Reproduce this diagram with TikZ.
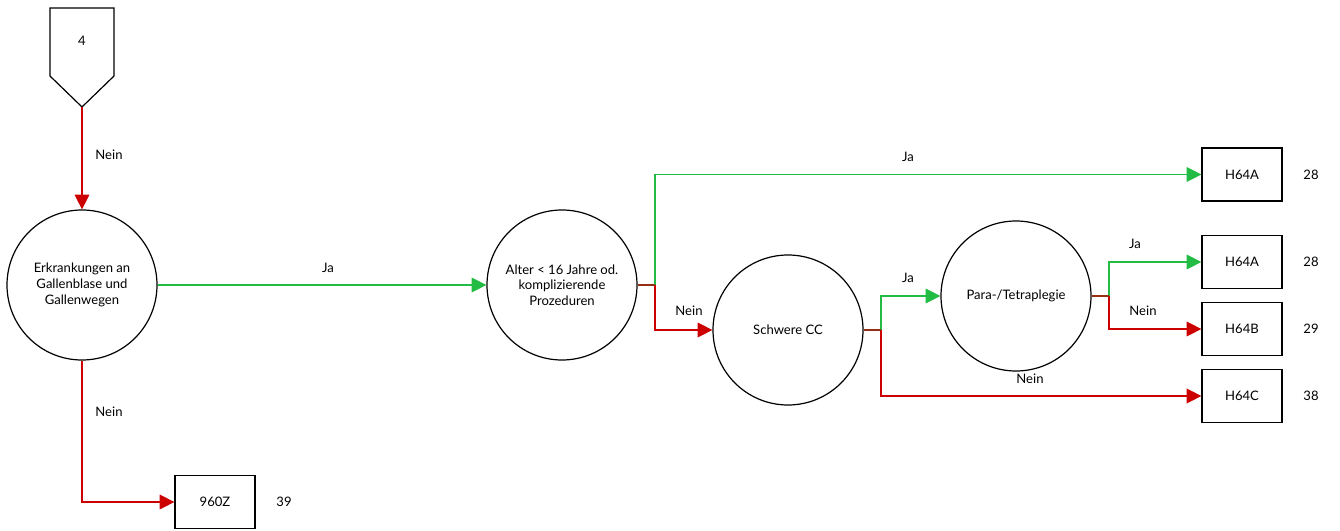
\documentclass[tikz,border=0pt]{standalone}
\usepackage{fontspec}
\setmainfont{Lato}
\usetikzlibrary{arrows.meta}
\definecolor{gr}{RGB}{34,187,68}
\definecolor{rd}{RGB}{204,0,0}
\definecolor{br}{RGB}{150,45,20}
\begin{document}
\begin{tikzpicture}[x=0.75pt,y=-0.75pt,
  every node/.style={font=\fontsize{9.8}{11.8}\selectfont},
  dec/.style={draw=black,line width=0.9pt,circle,minimum size=112.5pt,inner sep=0pt,align=center},
  res/.style={draw=black,line width=0.9pt,minimum width=60pt,minimum height=39.75pt,inner sep=0pt},
  yes/.style={draw=gr,line width=0.8pt,-{Triangle[length=11pt,width=11pt]}},
  no/.style={draw=rd,line width=0.8pt,-{Triangle[length=11pt,width=11pt]}},
  stub/.style={draw=br,line width=0.8pt},
  lbl/.style={inner sep=1pt}]
\useasboundingbox (0,0) rectangle (1340,531);
% off-page connector
\draw[line width=0.9pt] (50,8) -- (114,8) -- (114,76) -- (82,107) -- (50,76) -- cycle;
\node (p4) at (82,41) {4};
\coordinate (tip) at (82,107);
% decision circles
\node[dec] (c1) at (82,285) {Erkrankungen an\\Gallenblase und\\Gallenwegen};
\node[dec] (c2) at (562,285) {Alter < 16 Jahre od.\\komplizierende\\Prozeduren};
\node[dec] (c3) at (788,330) {Schwere CC};
\node[dec] (c4) at (1016,296) {Para-/Tetraplegie};
% results
\node[res] (r0) at (215,502) {960Z};
\node[res] (r1) at (1242,174.5) {H64A};
\node[res] (r2) at (1242,262) {H64A};
\node[res] (r3) at (1242,329) {H64B};
\node[res] (r4) at (1242,396) {H64C};
\node (n0) at (284,502) {39};
\node (n1) at (1311,174.5) {28};
\node (n2) at (1311,262) {28};
\node (n3) at (1311,329) {29};
\node (n4) at (1311,396) {38};
% connectors
\draw[no] (tip) -- (c1.north);
\node[lbl] at (109,155) {Nein};
\draw[yes] (c1.east) -- (c2.west);
\node[lbl] at (328,268) {Ja};
\draw[no] (c1.south) |- (r0.west);
\node[lbl] at (109,412) {Nein};
% c2 split
\coordinate (s2) at (655,285);
\draw[yes] (s2) |- (r1.west);
\draw[no] (s2) |- (c3.west);
\draw[stub] (c2.east) -- (s2);
\node[lbl] at (908,157) {Ja};
\node[lbl] at (689,311) {Nein};
% c3 split
\coordinate (s3) at (881,330);
\draw[yes] (s3) |- (c4.west);
\draw[no] (s3) |- (r4.west);
\draw[stub] (c3.east) -- (s3);
\node[lbl] at (908,278) {Ja};
\node[lbl] at (1030,379) {Nein};
% c4 split
\coordinate (s4) at (1109,296);
\draw[yes] (s4) |- (r2.west);
\draw[no] (s4) |- (r3.west);
\draw[stub] (c4.east) -- (s4);
\node[lbl] at (1135,244) {Ja};
\node[lbl] at (1143,311) {Nein};
\end{tikzpicture}
\end{document}
